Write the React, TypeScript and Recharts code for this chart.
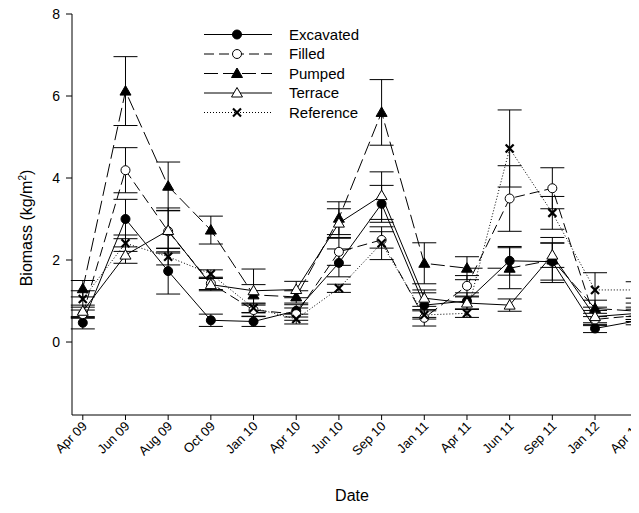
import React from "react";
import { ComposedChart, Line, XAxis, YAxis, ErrorBar } from "recharts";

const dates = [
  "Apr 09", "Jun 09", "Aug 09", "Oct 09", "Jan 10", "Apr 10", "Jun 10",
  "Sep 10", "Jan 11", "Apr 11", "Jun 11", "Sep 11", "Jan 12", "Apr 12",
];

const excavated = [0.47, 3.0, 1.73, 0.53, 0.5, 0.76, 1.93, 3.37, 0.9, 1.0, 1.98, 1.96, 0.33, 0.52];
const excavatedSe = [0.15, 0.48, 0.56, 0.15, 0.12, 0.15, 0.34, 0.45, 0.3, 0.2, 0.35, 0.45, 0.1, 0.1];
const filled = [0.68, 4.19, 2.7, 1.43, 0.78, 0.68, 2.2, 2.49, 0.59, 1.37, 3.5, 3.75, 0.55, 0.65];
const filledSe = [0.1, 0.55, 0.5, 0.15, 0.15, 0.15, 0.33, 0.2, 0.2, 0.25, 0.8, 0.5, 0.15, 0.15];
const pumped = [1.3, 6.12, 3.8, 2.73, 1.15, 1.1, 3.02, 5.6, 1.92, 1.8, 1.8, 2.0, 0.82, 0.75];
const pumpedSe = [0.2, 0.84, 0.59, 0.34, 0.25, 0.15, 0.4, 0.8, 0.5, 0.28, 0.5, 0.55, 0.2, 0.2];
const terrace = [0.75, 2.12, 2.72, 1.4, 1.25, 1.28, 2.9, 3.57, 1.07, 0.95, 0.9, 2.12, 0.62, 0.7];
const terraceSe = [0.15, 0.2, 0.55, 0.15, 0.53, 0.2, 0.35, 0.58, 0.2, 0.15, 0.15, 0.3, 0.15, 0.15];
const reference = [1.05, 2.41, 2.08, 1.66, 0.83, 0.56, 1.31, 2.41, 0.66, 0.7, 4.72, 3.15, 1.27, 1.27];
const referenceSe = [0.2, 0.2, 0.2, 0.1, 0.12, 0.12, 0.1, 0.4, 0.1, 0.1, 0.94, 0.4, 0.42, 0.2];

const yTicks = [0, 2, 4, 6, 8];

const FONT = "Arial, 'Liberation Sans', sans-serif";

type Shape = "circle" | "openCircle" | "triangle" | "openTriangle" | "cross";

const series: { key: string; name: string; dash?: string; shape: Shape }[] = [
  { key: "exc", name: "Excavated", shape: "circle" },
  { key: "fil", name: "Filled", dash: "10 5", shape: "openCircle" },
  { key: "pum", name: "Pumped", dash: "14 5", shape: "triangle" },
  { key: "ter", name: "Terrace", shape: "openTriangle" },
  { key: "ref", name: "Reference", dash: "1 2", shape: "cross" },
];

const data = dates.map((d, i) => ({
  i,
  date: d,
  exc: excavated[i],
  excSe: excavatedSe[i],
  fil: filled[i],
  filSe: filledSe[i],
  pum: pumped[i],
  pumSe: pumpedSe[i],
  ter: terrace[i],
  terSe: terraceSe[i],
  ref: reference[i],
  refSe: referenceSe[i],
}));

function Marker({ cx, cy, shape }: { cx: number; cy: number; shape: Shape }) {
  if (cx == null || cy == null) return null;
  switch (shape) {
    case "circle":
      return <circle cx={cx} cy={cy} r={4.5} fill="#000" stroke="#000" />;
    case "openCircle":
      return <circle cx={cx} cy={cy} r={4.5} fill="#fff" stroke="#000" />;
    case "triangle":
    case "openTriangle": {
      const pts = `${cx},${cy - 5.5} ${cx + 5.5},${cy + 4} ${cx - 5.5},${cy + 4}`;
      return (
        <polygon points={pts} fill={shape === "triangle" ? "#000" : "#fff"} stroke="#000" />
      );
    }
    case "cross":
      return (
        <g stroke="#000" strokeWidth={2.2}>
          <line x1={cx - 4} y1={cy - 4} x2={cx + 4} y2={cy + 4} />
          <line x1={cx - 4} y1={cy + 4} x2={cx + 4} y2={cy - 4} />
        </g>
      );
  }
  return null;
}

// rotated date labels, ending just right of the tick
const XTick = (props: any) => {
  const { x, y, payload } = props;
  return (
    <g transform={`translate(${x + 5},${y + 5}) rotate(-45)`}>
      <text x={0} y={0} textAnchor="end" fontSize={13} fontFamily={FONT} fill="#000">
        {dates[payload.value]}
      </text>
    </g>
  );
};

function LegendBox() {
  return (
    <svg
      width={639}
      height={130}
      style={{ position: "absolute", left: 0, top: 0, pointerEvents: "none" }}
    >
      {series.map((s, k) => {
        const y = 34.5 + k * 19.5;
        return (
          <g key={s.key}>
            <line x1={204} x2={272} y1={y} y2={y} stroke="#000" strokeDasharray={s.dash} />
            <Marker cx={237} cy={y} shape={s.shape} />
            <text x={289} y={y} dy="0.35em" fontSize={15} fontFamily={FONT} fill="#000">
              {s.name}
            </text>
          </g>
        );
      })}
    </svg>
  );
}

export default function App() {
  return (
    <div
      style={{ position: "relative", margin: -8, width: 639, height: 513, overflow: "hidden" }}
    >
      <ComposedChart
        width={660}
        height={513}
        data={data}
        margin={{ top: 14, right: 5, bottom: 38, left: 22 }}
      >
        <XAxis
          dataKey="i"
          type="number"
          domain={[-0.253, 13.405]}
          allowDataOverflow
          ticks={dates.map((_, i) => i)}
          interval={0}
          tick={<XTick />}
          tickSize={5}
          height={60}
          stroke="#000"
          tickLine={{ stroke: "#000" }}
          label={{
            content: () => (
              <text x={352} y={501} textAnchor="middle" fontSize={16} fontFamily={FONT} fill="#000">
                Date
              </text>
            ),
          }}
        />
        <YAxis
          type="number"
          domain={[-1.78, 8]}
          allowDataOverflow
          ticks={yTicks}
          interval={0}
          width={50}
          tickSize={6}
          tickMargin={6}
          stroke="#000"
          tick={{ fontSize: 14, fontFamily: FONT, fill: "#000" }}
          label={{
            content: () => (
              <text
                transform="translate(32,228) rotate(-90)"
                textAnchor="middle"
                fontSize={16}
                fontFamily={FONT}
                fill="#000"
              >
                Biomass (kg/m
                <tspan dy={-6} fontSize={10}>2</tspan>
                <tspan dy={6}>)</tspan>
              </text>
            ),
          }}
        />
        {series.map((s) => (
          <Line
            key={s.key}
            dataKey={s.key}
            name={s.name}
            stroke="#000"
            strokeWidth={1}
            strokeDasharray={s.dash}
            isAnimationActive={false}
            activeDot={false}
            dot={(p: any) => (
              <Marker key={`${s.key}-${p.index}`} cx={p.cx} cy={p.cy} shape={s.shape} />
            )}
          >
            <ErrorBar
              dataKey={`${s.key}Se`}
              width={12}
              stroke="#000"
              strokeWidth={1}
              direction="y"
              isAnimationActive={false}
            />
          </Line>
        ))}
      </ComposedChart>
      <LegendBox />
    </div>
  );
}
